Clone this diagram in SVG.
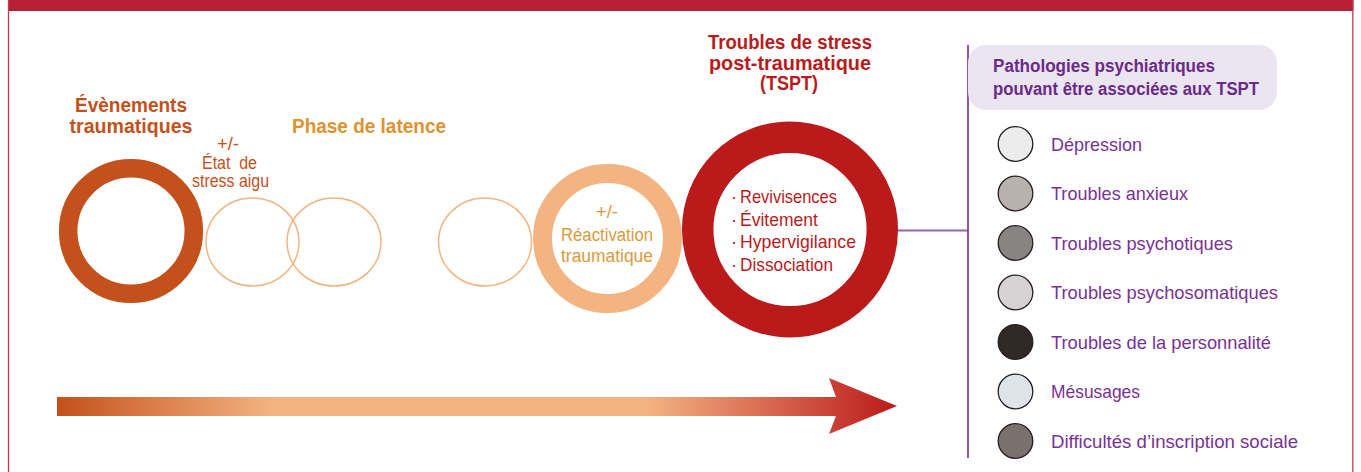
<svg xmlns="http://www.w3.org/2000/svg" width="1361" height="472" viewBox="0 0 1361 472">
<defs>
<style>
.t{font-family:"Liberation Sans",Arial,sans-serif;}
.b{font-weight:bold;}
.c{text-anchor:middle;}
.thin{fill:none;stroke:#f4b482;stroke-width:1.5;}
.leg circle{stroke:#231f20;stroke-width:1.3;}
.lt{font-family:"Liberation Sans",Arial,sans-serif;font-size:19px;fill:#7a3196;}
</style>
<linearGradient id="arrowGrad" gradientUnits="userSpaceOnUse" x1="57" y1="0" x2="897" y2="0">
<stop offset="0" stop-color="#c4511b"/>
<stop offset="0.26" stop-color="#f3b482"/>
<stop offset="0.70" stop-color="#f3b482"/>
<stop offset="1" stop-color="#bb1a1b"/>
</linearGradient>
</defs>
<rect width="1361" height="472" fill="#ffffff"/>
<g id="frame">
<rect x="8" y="0" width="1345.5" height="11" fill="#b82035"/>
<line x1="8.5" y1="0" x2="8.5" y2="472" stroke="#c23a50" stroke-width="1.3"/>
<line x1="1352.8" y1="0" x2="1352.8" y2="472" stroke="#c23a50" stroke-width="1.3"/>
</g>
<g id="connectors">
<line x1="896" y1="230.5" x2="968" y2="230.5" stroke="#9a62b5" stroke-width="2"/>
<line x1="968" y1="45" x2="968" y2="458" stroke="#7b2d8e" stroke-width="1.6"/>
<polygon points="57,397 836,397 829,378 897,406 829,434 836,416 57,416" fill="url(#arrowGrad)"/>
</g>
<g id="evenements">
<circle cx="131" cy="231" r="62.8" fill="none" stroke="#c4511b" stroke-width="18.5"/>
<text class="t b c" x="131" y="112" font-size="20.5" fill="#c4511b" textLength="112" lengthAdjust="spacingAndGlyphs">Évènements</text>
<text class="t b c" x="131" y="133" font-size="20.5" fill="#c4511b" textLength="123" lengthAdjust="spacingAndGlyphs">traumatiques</text>
</g>
<g id="stress-aigu">
<text class="t c" x="228" y="150" font-size="17.5" fill="#c4511b" textLength="22" lengthAdjust="spacingAndGlyphs">+/-</text>
<text class="t c" x="229.5" y="169" font-size="17.5" fill="#c4511b" xml:space="preserve" textLength="55" lengthAdjust="spacingAndGlyphs">État  de</text>
<text class="t c" x="230.5" y="187" font-size="17.5" fill="#c4511b" textLength="77" lengthAdjust="spacingAndGlyphs">stress aigu</text>
</g>
<g id="latence-1"><ellipse class="thin" cx="252.5" cy="242" rx="46.5" ry="44"/></g>
<g id="latence-2"><ellipse class="thin" cx="334" cy="242" rx="47" ry="44"/></g>
<g id="latence-label"><text class="t b" x="292" y="133" font-size="20" fill="#e0922f" textLength="154" lengthAdjust="spacingAndGlyphs">Phase de latence</text></g>
<g id="latence-3"><ellipse class="thin" cx="485" cy="242" rx="46.5" ry="44"/></g>
<g id="reactivation">
<circle cx="607.5" cy="238.5" r="65" fill="none" stroke="#f4b482" stroke-width="19"/>
<text class="t c" x="607" y="218" font-size="18" fill="#dc9a3c" textLength="22" lengthAdjust="spacingAndGlyphs">+/-</text>
<text class="t c" x="607" y="241" font-size="18" fill="#dc9a3c" textLength="92" lengthAdjust="spacingAndGlyphs">Réactivation</text>
<text class="t c" x="607" y="262" font-size="18" fill="#dc9a3c" textLength="92" lengthAdjust="spacingAndGlyphs">traumatique</text>
</g>
<g id="tspt">
<circle cx="790" cy="229.5" r="92.3" fill="none" stroke="#bb1a1b" stroke-width="31.5"/>
<text class="t b c" x="790" y="48.5" font-size="20" fill="#bb1a1b" textLength="164" lengthAdjust="spacingAndGlyphs">Troubles de stress</text>
<text class="t b c" x="790" y="69.5" font-size="20" fill="#bb1a1b" textLength="162" lengthAdjust="spacingAndGlyphs">post-traumatique</text>
<text class="t b c" x="789" y="90" font-size="20" fill="#bb1a1b" textLength="58" lengthAdjust="spacingAndGlyphs">(TSPT)</text>
<text class="t" x="731" y="203" font-size="18" fill="#bb1a1b">·</text>
<text class="t" x="740" y="203" font-size="19" fill="#bb1a1b" textLength="97" lengthAdjust="spacingAndGlyphs">Revivisences</text>
<text class="t" x="731" y="225.5" font-size="18" fill="#bb1a1b">·</text>
<text class="t" x="740" y="225.5" font-size="19" fill="#bb1a1b" textLength="78" lengthAdjust="spacingAndGlyphs">Évitement</text>
<text class="t" x="731" y="248" font-size="18" fill="#bb1a1b">·</text>
<text class="t" x="740" y="248" font-size="19" fill="#bb1a1b" textLength="116" lengthAdjust="spacingAndGlyphs">Hypervigilance</text>
<text class="t" x="731" y="271" font-size="18" fill="#bb1a1b">·</text>
<text class="t" x="740" y="271" font-size="19" fill="#bb1a1b" textLength="93" lengthAdjust="spacingAndGlyphs">Dissociation</text>
</g>
<g id="legend-header">
<rect x="968" y="45" width="309" height="65" rx="18" fill="#ebe4f1"/>
<text class="t b" x="993" y="72" font-size="18" fill="#6a2a87" textLength="222" lengthAdjust="spacingAndGlyphs">Pathologies psychiatriques</text>
<text class="t b" x="993" y="95" font-size="18" fill="#6a2a87" textLength="266" lengthAdjust="spacingAndGlyphs">pouvant être associées aux TSPT</text>
</g>
<g id="leg-depression" class="leg"><circle cx="1015.5" cy="144" r="17.3" fill="#ececec"/><text class="lt" x="1051" y="150.5" textLength="91" lengthAdjust="spacingAndGlyphs">Dépression</text></g>
<g id="leg-anxieux" class="leg"><circle cx="1015.5" cy="193.5" r="17.3" fill="#b9b1ae"/><text class="lt" x="1051" y="200" textLength="137" lengthAdjust="spacingAndGlyphs">Troubles anxieux</text></g>
<g id="leg-psychotiques" class="leg"><circle cx="1015.5" cy="243" r="17.3" fill="#888484"/><text class="lt" x="1051" y="249.5" textLength="182" lengthAdjust="spacingAndGlyphs">Troubles psychotiques</text></g>
<g id="leg-psychosomatiques" class="leg"><circle cx="1015.5" cy="292.5" r="17.3" fill="#d5d3d3"/><text class="lt" x="1051" y="299" textLength="227" lengthAdjust="spacingAndGlyphs">Troubles psychosomatiques</text></g>
<g id="leg-personnalite" class="leg"><circle cx="1015.5" cy="342" r="17.3" fill="#312926"/><text class="lt" x="1051" y="348.5" textLength="220" lengthAdjust="spacingAndGlyphs">Troubles de la personnalité</text></g>
<g id="leg-mesusages" class="leg"><circle cx="1015.5" cy="391.5" r="17.3" fill="#dfe3ea"/><text class="lt" x="1051" y="398" textLength="89" lengthAdjust="spacingAndGlyphs">Mésusages</text></g>
<g id="leg-difficultes" class="leg"><circle cx="1015.5" cy="441" r="17.3" fill="#7a706e"/><text class="lt" x="1051" y="447.5" textLength="247" lengthAdjust="spacingAndGlyphs">Difficultés d’inscription sociale</text></g>
</svg>
